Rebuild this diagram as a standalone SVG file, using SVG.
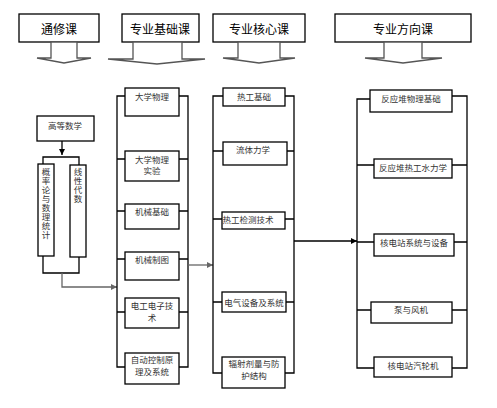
<svg xmlns="http://www.w3.org/2000/svg" width="497" height="408" viewBox="0 0 497 408">
<defs>
<style>
.box{fill:#fff;stroke:#000;stroke-width:1.3}
.ln{fill:none;stroke:#000;stroke-width:1.3}
.ga{fill:none;stroke:#666;stroke-width:1.3}
.big{fill:#fff;stroke:#555;stroke-width:1.3}
.h{font-family:"Noto Sans CJK SC","Noto Sans CJK JP",sans-serif;font-size:12px;fill:#000;text-anchor:middle;dominant-baseline:central}
.t{font-family:"Noto Sans CJK SC","Noto Sans CJK JP",sans-serif;font-size:8.5px;fill:#333;text-anchor:middle;dominant-baseline:central}
.v{font-family:"Noto Sans CJK SC","Noto Sans CJK JP",sans-serif;font-size:8.5px;fill:#333;writing-mode:vertical-rl;letter-spacing:0.5px}
</style>
<marker id="ab" viewBox="0 0 10 10" refX="10" refY="5" markerWidth="6" markerHeight="6" markerUnits="userSpaceOnUse" orient="auto"><path d="M0,0L10,5L0,10z" fill="#000"/></marker>
<marker id="ag" viewBox="0 0 10 10" refX="10" refY="5" markerWidth="6" markerHeight="6" markerUnits="userSpaceOnUse" orient="auto"><path d="M0,0L10,5L0,10z" fill="#666"/></marker>
</defs>
<rect width="497" height="408" fill="#fff"/>

<g id="header-tongxiu"><rect class="box" x="19" y="14" width="80" height="28"/><text class="h" x="59" y="28">通修课</text>
<polygon class="big" points="51,42 51,58 37,58 64,63 91,58 77,58 77,42"/></g>
<g id="header-jichu"><rect class="box" x="122" y="14" width="77" height="28"/><text class="h" x="160" y="28">专业基础课</text>
<polygon class="big" points="133,42 133,59 108,59 157,64 205,59 182,59 182,42"/></g>
<g id="header-hexin"><rect class="box" x="213" y="14" width="92" height="28"/><text class="h" x="259" y="28">专业核心课</text>
<polygon class="big" points="238,42 238,58 223,58 259,63 295,58 280,58 280,42"/></g>
<g id="header-fangxiang"><rect class="box" x="335" y="14" width="136" height="28"/><text class="h" x="403" y="28">专业方向课</text>
<polygon class="big" points="384,42 384,58 365,58 403,63 442,58 422,58 422,42"/></g>

<g id="connectors">
<path class="ln" d="M62,141V155" marker-end="url(#ab)"/>
<path class="ln" d="M43,164V157H79V165"/>
<path class="ln" d="M43,256V273H79V257"/>
<path class="ga" d="M62,273V287H117" marker-end="url(#ag)"/>
<path class="ln" d="M125,96H117V367H125M117,159H125M117,211H125M117,259H125M117,312H125"/>
<path class="ln" d="M179,96H188V367H179M179,159H188M179,211H188M179,259H188M179,312H188"/>
<path class="ga" d="M188,265H213" marker-end="url(#ag)"/>
<path class="ln" d="M223,96H213V373H222M213,151H223M213,219H222M213,302H222"/>
<path class="ln" d="M285,96H294V373H285M287,151H294M285,219H294M286,302H294"/>
<path class="ln" d="M294,241H357" marker-end="url(#ab)"/>
<path class="ln" d="M370,99H357V368H374M357,165H374M357,242H374M357,310H371"/>
<path class="ln" d="M452,96H467V368H452M452,165H467M454,242H467M452,310H467"/>
</g>

<g id="gaodengshuxue"><rect class="box" x="37" y="116" width="57" height="25"/><text class="t" x="65" y="125">高等数学</text></g>
<g id="gailvlun"><rect class="box" x="38" y="164" width="16" height="92"/>
<text class="v" x="46" y="168">概率论与数理统计</text></g>
<g id="xianxingdaishu"><rect class="box" x="70" y="165" width="16" height="92"/>
<text class="v" x="78" y="168">线性代数</text></g>

<g id="daxuewuli"><rect class="box" x="125" y="88" width="54" height="28"/><text class="t" x="152" y="96">大学物理</text></g>
<g id="daxuewulishiyan"><rect class="box" x="125" y="151" width="54" height="30"/><text class="t" x="152" y="159">大学物理<tspan x="152" dy="11">实验</tspan></text></g>
<g id="jixiejichu"><rect class="box" x="125" y="204" width="54" height="25"/><text class="t" x="152" y="211">机械基础</text></g>
<g id="jixiezhitu"><rect class="box" x="125" y="252" width="54" height="28"/><text class="t" x="152" y="259">机械制图</text></g>
<g id="diangong"><rect class="box" x="125" y="298" width="54" height="30"/><text class="t" x="152" y="305">电工电子技<tspan x="152" dy="11.5">术</tspan></text></g>
<g id="zidongkongzhi"><rect class="box" x="125" y="353" width="54" height="31"/><text class="t" x="152" y="359">自动控制原<tspan x="152" dy="12">理及系统</tspan></text></g>

<g id="regongjichu"><rect class="box" x="223" y="88" width="62" height="18"/><text class="t" x="254" y="96">热工基础</text></g>
<g id="liutilixue"><rect class="box" x="223" y="142" width="64" height="23"/><text class="t" x="253" y="149">流体力学</text></g>
<g id="regongjiance"><rect class="box" x="222" y="212" width="63" height="17"/><text class="t" x="248" y="219">热工检测技术</text></g>
<g id="dianqishebei"><rect class="box" x="222" y="292" width="64" height="20"/><text class="t" x="254" y="302">电气设备及系统</text></g>
<g id="fushejiliang"><rect class="box" x="222" y="357" width="63" height="31"/><text class="t" x="254" y="363">辐射剂量与防<tspan x="254" dy="11.5">护结构</tspan></text></g>

<g id="fanyingduiwuli"><rect class="box" x="370" y="90" width="82" height="22"/><text class="t" x="411" y="98">反应堆物理基础</text></g>
<g id="fanyingduiregong"><rect class="box" x="374" y="159" width="78" height="19"/><text class="t" x="413" y="167">反应堆热工水力学</text></g>
<g id="hedianzhanxitong"><rect class="box" x="374" y="234" width="80" height="22"/><text class="t" x="414" y="242">核电站系统与设备</text></g>
<g id="bengyufengji"><rect class="box" x="371" y="302" width="81" height="21"/><text class="t" x="411" y="309">泵与风机</text></g>
<g id="qilunji"><rect class="box" x="374" y="357" width="78" height="20"/><text class="t" x="413" y="365">核电站汽轮机</text></g>
</svg>
